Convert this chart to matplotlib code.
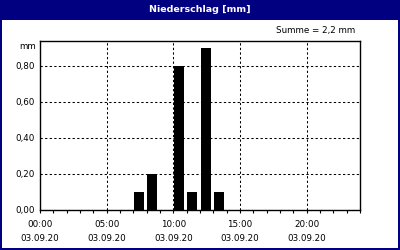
import matplotlib
matplotlib.use("Agg")
import matplotlib.pyplot as plt
from matplotlib.patches import Rectangle

# hourly precipitation, 03.09.20
hours = [7, 8, 10, 11, 12, 13]
rain_mm = [0.1, 0.2, 0.8, 0.1, 0.9, 0.1]
x_ticks = [0, 5, 10, 15, 20]
x_labels = ["00:00\n03.09.20", "05:00\n03.09.20", "10:00\n03.09.20",
            "15:00\n03.09.20", "20:00\n03.09.20"]
y_ticks = [0.0, 0.2, 0.4, 0.6, 0.8]
y_labels = ["0,00", "0,20", "0,40", "0,60", "0,80"]

navy = "#000080"
W, H = 400, 250
fs = 6.3

fig = plt.figure(figsize=(4, 2.5), dpi=100, facecolor=navy)
# white panel inside the navy frame
fig.add_artist(Rectangle((2 / W, 2 / H), 396 / W, 228 / H,
                         transform=fig.transFigure, facecolor="white",
                         edgecolor="none", zorder=-5))

fig.text(0.5, 1 - 9 / H, "Niederschlag [mm]", color="white", fontsize=6.8,
         fontweight="bold", ha="center", va="center")
fig.text(355 / W, 1 - 31 / H, "Summe = %s mm" % str(round(sum(rain_mm), 1)).replace(".", ","),
         fontsize=fs, ha="right", va="center")

ax = fig.add_axes([40 / W, 1 - 210 / H, 320 / W, 169 / H])
ax.set_facecolor("white")
ax.bar([h + 0.05 for h in hours], rain_mm, width=0.75, align="edge",
       color="black", zorder=3)

ax.set_xlim(0, 24)
ax.set_ylim(0, 169 / 180)
ax.set_xticks(x_ticks)
ax.set_xticklabels(x_labels, fontsize=fs, linespacing=1.75)
ax.set_xticks(range(25), minor=True)
ax.set_yticks(y_ticks)
ax.set_yticklabels(y_labels, fontsize=fs)
ax.tick_params(axis="x", which="both", direction="out", length=2.5, width=0.8, pad=4.5)
ax.tick_params(axis="y", length=0, pad=4)
ax.text(-0.013, 0.91, "mm", fontsize=fs, ha="right", va="center",
        transform=ax.get_yaxis_transform())

ax.grid(True, which="major", color="black", linestyle=(0, (2.2, 2.2)), linewidth=0.75)
for s in ax.spines.values():
    s.set_linewidth(1)
    s.set_color("black")

fig.savefig("out.png", dpi=100, facecolor=navy)
